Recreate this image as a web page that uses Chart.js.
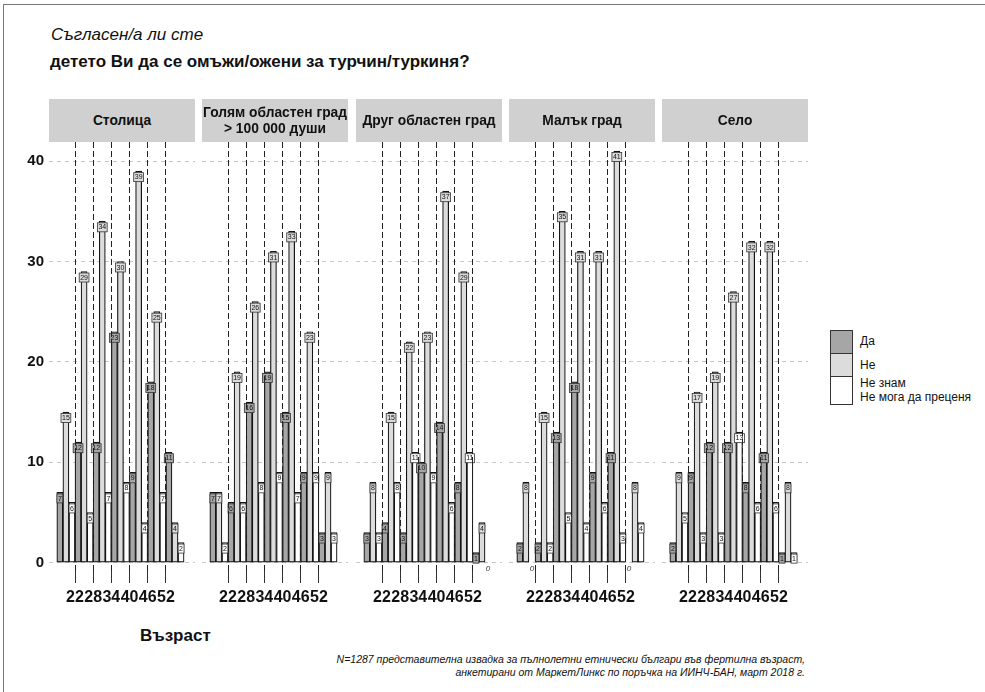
<!DOCTYPE html>
<html>
<head>
<meta charset="utf-8">
<script src="https://cdn.jsdelivr.net/npm/chart.js@4.4.1/dist/chart.umd.min.js"></script>
<style>
  body { margin: 0; background: #fff; font-family: "Liberation Sans", Arial, sans-serif; }
  #page { position: relative; width: 985px; height: 692px; overflow: hidden; }
  .frame { position: absolute; left: 3px; top: 4px; width: 990px; height: 700px; border-left: 1px solid #777; border-top: 1px solid #777; }
  .t1 { position: absolute; left: 51px; top: 25px; font-size: 17px; font-style: italic; color: #111; }
  .t2 { position: absolute; left: 50px; top: 52px; font-size: 17px; font-weight: bold; color: #111; }
  .strip { position: absolute; top: 99px; height: 43px; background: #d0d0d0; display: flex; align-items: center; justify-content: center; font-size: 13.8px; font-weight: bold; color: #111; z-index: 2; }
  .strip span { display: block; text-align: center; line-height: 16px; }
  canvas { position: absolute; }
  .xtitle { position: absolute; left: 140px; top: 626px; font-size: 17px; font-weight: bold; color: #111; }
  .note { position: absolute; right: 180px; top: 653px; font-size: 10.5px; font-style: italic; text-align: right; line-height: 12.5px; color: #111; }
  .key { position: absolute; left: 830px; width: 21px; border: 1px solid #333; }
  .lab { position: absolute; left: 860px; font-size: 12px; line-height: 14px; color: #111; }
</style>
</head>
<body>
<div id="page">
  <div class="frame"></div>
  <div class="t1">Съгласен/а ли сте</div>
  <div class="t2">детето Ви да се омъжи/ожени за турчин/туркиня?</div>
  <div class="xtitle">Възраст</div>
  <div class="note">N=1287 представителна извадка за пълнолетни етнически българи във фертилна възраст,<br>анкетирани от МаркетЛинкс по поръчка на ИИНЧ-БАН, март 2018 г.</div>
  <div class="key" style="top:330px;height:22px;background:#a6a6a6"></div>
  <div class="key" style="top:353px;height:22px;background:#dcdcdc"></div>
  <div class="key" style="top:376px;height:27px;background:#fff"></div>
  <div class="lab" style="top:334px">Да</div>
  <div class="lab" style="top:358px">Не</div>
  <div class="lab" style="top:376px">Не знам<br>Не мога да преценя</div>
</div>
<script>
// age groups (centre of each 6-year group) and the axis ticks
const ageGroups = [19, 25, 31, 37, 43, 49, 55];
const ageTicks = [22, 28, 34, 40, 46, 52];
const yTicks = [0, 10, 20, 30, 40];
const settlements = ['Столица', 'Голям областен град\n> 100 000 души', 'Друг областен град', 'Малък град', 'Село'];
const answers = ['Да', 'Не', 'Не знам / Не мога да преценя'];

// counts per settlement, by age group
const yesCapital = [7, 12, 12, 23, 9, 18, 11];
const noCapital = [15, 29, 34, 30, 39, 25, 4];
const dkCapital = [6, 5, 7, 8, 4, 7, 2];

const yesBigCity = [7, 6, 16, 19, 15, 9, 3];
const noBigCity = [7, 19, 26, 31, 33, 23, 9];
const dkBigCity = [2, 6, 8, 9, 7, 9, 3];

const yesOtherCity = [3, 4, 3, 10, 14, 8, 1];
const noOtherCity = [8, 15, 22, 23, 37, 29, 4];
const dkOtherCity = [3, 8, 11, 9, 6, 11, 0];

const yesSmallTown = [2, 2, 13, 18, 9, 11, 0];
const noSmallTown = [8, 15, 35, 31, 31, 41, 8];
const dkSmallTown = [0, 2, 5, 4, 6, 3, 4];

const yesVillage = [2, 9, 12, 12, 8, 11, 1];
const noVillage = [9, 17, 19, 27, 32, 32, 8];
const dkVillage = [5, 3, 3, 13, 6, 6, 1];

const facetData = [
  [yesCapital, noCapital, dkCapital],
  [yesBigCity, noBigCity, dkBigCity],
  [yesOtherCity, noOtherCity, dkOtherCity],
  [yesSmallTown, noSmallTown, dkSmallTown],
  [yesVillage, noVillage, dkVillage]
];

const fills = ['#a6a6a6', '#dcdcdc', '#ffffff'];
const panelLefts = [49, 202, 356, 509, 662];
const panelW = 146, panelTop = 142, panelH = 429, padTop = 20, xAxisH = 45, yAxisW = 49;
const xMin = 13.42, xMax = 61.6, yMin = -0.83, yMax = 41.9;

const barLabels = {
  id: 'barLabels',
  afterDatasetsDraw(chart) {
    const ctx = chart.ctx;
    ctx.save();
    chart.data.datasets.forEach((ds, d) => {
      chart.getDatasetMeta(d).data.forEach((bar, j) => {
        const v = ds.data[j].y;
        if (v === 0) {
          ctx.font = 'italic 8px "Liberation Sans", Arial';
          ctx.fillStyle = '#333';
          ctx.textAlign = 'center';
          ctx.textBaseline = 'middle';
          ctx.fillText('0', bar.x, bar.base + 6);
          return;
        }
        ctx.font = '7px "Liberation Sans", Arial';
        const tw = ctx.measureText(String(v)).width;
        const w = Math.max(tw + 2, 5);
        ctx.fillStyle = ds.backgroundColor;
        ctx.strokeStyle = '#333';
        ctx.lineWidth = 0.8;
        ctx.fillRect(bar.x - w / 2, bar.y + 1.5, w, 9);
        ctx.strokeRect(bar.x - w / 2, bar.y + 1.5, w, 9);
        ctx.fillStyle = '#111';
        ctx.textAlign = 'center';
        ctx.textBaseline = 'middle';
        ctx.fillText(String(v), bar.x, bar.y + 6.2);
      });
    });
    ctx.restore();
  }
};

const page = document.getElementById('page');

settlements.forEach((name, i) => {
  const strip = document.createElement('div');
  strip.className = 'strip';
  strip.style.left = panelLefts[i] + 'px';
  strip.style.width = panelW + 'px';
  const span = document.createElement('span');
  span.innerText = name;
  strip.appendChild(span);
  page.appendChild(strip);

  const yw = i === 0 ? yAxisW : 0;
  const canvas = document.createElement('canvas');
  canvas.width = panelW + yw;
  canvas.height = padTop + panelH + xAxisH;
  canvas.style.left = (panelLefts[i] - yw) + 'px';
  canvas.style.top = (panelTop - padTop) + 'px';
  page.appendChild(canvas);

  const datasets = facetData[i].map((vals, d) => ({
    label: answers[d],
    data: ageGroups.map((a, j) => ({ x: a, y: vals[j] })),
    backgroundColor: fills[d],
    borderColor: '#141414',
    borderWidth: 1.2,
    borderSkipped: false
  }));

  new Chart(canvas, {
    type: 'bar',
    data: { datasets: datasets },
    options: {
      responsive: false,
      animation: false,
      layout: { padding: { top: padTop, left: 0, right: 0, bottom: 0 } },
      datasets: { bar: { categoryPercentage: 1, barPercentage: 1 } },
      plugins: { legend: { display: false }, tooltip: { enabled: false } },
      scales: {
        x: {
          type: 'linear',
          min: xMin,
          max: xMax,
          offset: false,
          grid: { offset: false, color: '#222', lineWidth: 1, z: 1, tickLength: 12, tickColor: '#333', tickWidth: 1, tickBorderDash: [] },
          border: { display: false, dash: [6, 3] },
          ticks: { autoSkip: false, maxRotation: 0, padding: 5, color: '#111', font: { family: '"Liberation Sans", Arial', size: 16, weight: 'bold' } },
          afterBuildTicks: s => { s.ticks = ageTicks.map(v => ({ value: v })); },
          afterFit: s => { s.height = xAxisH; }
        },
        y: {
          min: yMin,
          max: yMax,
          grid: { color: '#c8c8c8', lineWidth: 1, drawTicks: false },
          border: { display: false, dash: [4, 4] },
          ticks: { display: i === 0, padding: 5, color: '#111', font: { family: '"Liberation Sans", Arial', size: 15, weight: 'bold' } },
          afterBuildTicks: s => { s.ticks = yTicks.map(v => ({ value: v })); },
          afterFit: s => { s.width = yw; }
        }
      }
    },
    plugins: [barLabels]
  });
});
</script>
</body>
</html>
